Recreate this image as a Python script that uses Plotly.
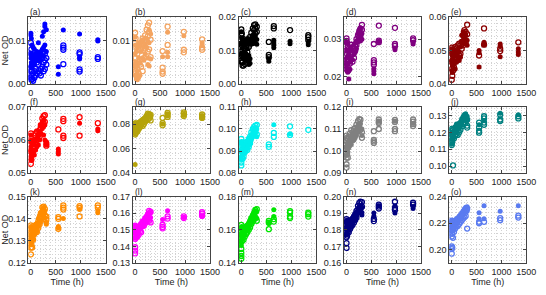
import plotly.graph_objects as go

T = [0, 10, 25, 45, 70, 95, 120, 150, 175, 200, 230, 255, 280, 310, 550, 650, 975, 1340]

a_filled = [[0.0117, 0.0112, 0.006, 0.004], [0.0105, 0.007, 0.005], [0.009, 0.006, 0.0045], [0.0085, 0.0065, 0.005],
            [0.008, 0.006, 0.0045], [0.007, 0.0055], [0.0075, 0.006], [0.0095, 0.0065], [0.007, 0.0055], [0.0075, 0.0065],
            [0.011, 0.008], [0.012, 0.0085, 0.0065], [0.0138, 0.0132, 0.009], [0.0125, 0.0075], [0.004, 0.0023],
            [0.0124], [0.0115, 0.0062, 0.0058], [0.0102, 0.0099]]
a_open = [[0.0095, 0.007, 0.003, 0.0015], [0.008, 0.004, 0.002, 0.001], [0.0065, 0.003, 0.0012], [0.005, 0.0025, 0.0008],
          [0.0055, 0.003, 0.0015], [0.006, 0.0035, 0.002], [0.005, 0.0025], [0.0045, 0.003], [0.0055, 0.0025], [0.0035, 0.002],
          [0.006, 0.004], [0.0075, 0.005, 0.003], [0.007, 0.0055, 0.0035], [0.006, 0.0045], [],
          [0.0089, 0.0084, 0.0079, 0.0046], [0.0073, 0.0069, 0.0034, 0.0029], [0.0062, 0.0058]]

b_filled = [[0.0108, 0.007, 0.004], [0.009, 0.005, 0.002], [0.0075, 0.004, 0.0012], [0.0085, 0.003, 0.001],
            [0.0095, 0.006, 0.0015], [0.0088, 0.005, 0.002], [0.0098, 0.0075], [0.0102, 0.006], [0.0085, 0.0055],
            [0.0092, 0.007], [0.0105, 0.0085], [0.0098, 0.006, 0.0045], [0.0125, 0.0095, 0.0042], [0.0115, 0.0058],
            [0.0063], [0.0119, 0.0073, 0.0063], [0.0111], [0.0095, 0.009]]
b_open = [[0.0118, 0.0095, 0.005, 0.0025], [0.0105, 0.006, 0.003], [0.0085, 0.0045, 0.002], [0.007, 0.0035, 0.0018],
          [0.0078, 0.005, 0.0025], [0.0092, 0.0045], [0.0082, 0.004], [0.0105, 0.0088, 0.003], [0.009, 0.006],
          [0.0112, 0.0082], [0.0125, 0.01], [0.0135, 0.011, 0.0075], [0.0141, 0.012, 0.008], [0.0102, 0.0062],
          [0.0076, 0.0038, 0.0029, 0.0024], [0.0132, 0.009], [0.012, 0.0079, 0.0073], [0.0103, 0.0084, 0.0079]]

c_filled = [[0.0155, 0.012, 0.009], [0.0135, 0.0105], [0.0125, 0.0095, 0.008], [0.0115, 0.0085],
            [0.013, 0.0095, 0.0075], [0.0125, 0.009, 0.0078], [0.0135, 0.0105, 0.0068], [0.012, 0.0085, 0.0058],
            [0.0132, 0.0075, 0.0062], [0.0125, 0.0128], [0.0135, 0.012], [0.0145, 0.0128], [0.014, 0.0122],
            [0.0132, 0.0118], [0.0075, 0.0068], [0.013, 0.0122, 0.0115, 0.0108], [0.0127, 0.012], [0.0125, 0.0117]]
c_open = [[0.0162, 0.0145, 0.012, 0.0095, 0.007], [0.015, 0.0115, 0.0085, 0.0065], [0.0135, 0.01, 0.0065, 0.0055],
          [0.012, 0.0085, 0.0055], [0.0105, 0.0075, 0.006], [0.0115, 0.0082], [0.0125, 0.0095], [0.0132, 0.011],
          [0.014, 0.0118], [0.0152, 0.013], [0.0165, 0.0142], [0.0175, 0.016, 0.0145], [0.0177, 0.0165, 0.015],
          [0.017, 0.0155], [0.0125, 0.0087, 0.008], [0.0172, 0.0165], [0.016], [0.0145, 0.0139, 0.0131]]

d_filled = [[0.029, 0.025, 0.023], [0.027, 0.0235, 0.0215], [0.0255, 0.022, 0.0212], [0.026, 0.0215, 0.0194],
            [0.0275, 0.024, 0.022], [0.028, 0.025], [0.027, 0.0245], [0.0285, 0.026], [0.029, 0.0265], [0.0295, 0.0275],
            [0.0315, 0.0295], [0.0325, 0.030], [0.033, 0.031, 0.0295], [0.0315, 0.030], [0.0221, 0.0215, 0.0208],
            [0.0294], [0.0276, 0.0272], [0.0292, 0.0287]]
d_open = [[0.0302, 0.0295, 0.027, 0.0245, 0.022], [0.029, 0.026, 0.0235], [0.028, 0.0245, 0.0225], [0.0275, 0.024],
          [0.026, 0.0235], [0.0285, 0.0265], [0.026, 0.024], [0.0275, 0.025], [0.0285, 0.027], [0.030, 0.0285],
          [0.031, 0.0295], [0.032, 0.0305], [0.0328, 0.031], [0.0338, 0.0325], [0.0287, 0.0244, 0.0238, 0.0232],
          [0.0336, 0.0296, 0.0292], [0.033, 0.0287, 0.0282], [0.0302, 0.0297]]

e_filled = [[0.0505, 0.047, 0.044], [0.049, 0.046, 0.0435], [0.048, 0.0455], [0.0495, 0.046], [0.0485, 0.0465, 0.0445],
            [0.0495, 0.0465], [0.050, 0.0475], [0.0495, 0.047], [0.051, 0.048], [0.0545, 0.0525], [0.0555, 0.053],
            [0.0553, 0.0535, 0.052], [0.0545, 0.052], [0.053, 0.0515], [0.050, 0.0493, 0.0451], [0.0524, 0.0517],
            [0.0519, 0.0513, 0.0481], [0.0505, 0.0495, 0.0488]]
e_open = [[0.0508, 0.049, 0.0465, 0.0445, 0.0413], [0.0495, 0.047, 0.0425], [0.0485, 0.046, 0.044], [0.050, 0.0475, 0.045],
          [0.051, 0.048], [0.0505, 0.0485], [0.0515, 0.0495], [0.052, 0.0485], [0.0515, 0.049], [0.0525, 0.0505],
          [0.0545, 0.0515], [0.056, 0.054], [0.0555, 0.0525], [0.0576, 0.0548], [0.0485], [0.0565, 0.0517],
          [0.0505, 0.0498], [0.0524]]

f_filled = [[0.0615, 0.058, 0.055], [0.060, 0.0565, 0.054], [0.059, 0.0555], [0.0595, 0.056], [0.0585, 0.0555],
            [0.060, 0.057], [0.0605, 0.058], [0.0615, 0.0585], [0.0625, 0.060], [0.0645, 0.062], [0.0655, 0.0635],
            [0.066, 0.064, 0.0615], [0.0645, 0.060], [0.0595, 0.0585], [0.0573, 0.0565, 0.0558], [], [0.0651],
            [0.0633, 0.0628]]
f_open = [[0.062, 0.0595, 0.0565, 0.0528], [0.0605, 0.057, 0.054], [0.0595, 0.0555], [0.058, 0.0565], [0.060, 0.0575],
          [0.062, 0.0595], [0.0625, 0.060], [0.0615, 0.0625], [0.063, 0.061], [0.0645, 0.0635], [0.0665, 0.0645],
          [0.0672, 0.065], [0.0675, 0.0655], [0.059, 0.0583], [0.0632], [0.0664, 0.0657, 0.0613, 0.0606],
          [0.0669, 0.0613], [0.0651]]

g_filled = [[0.080, 0.076, 0.073, 0.047], [0.081, 0.0775, 0.0745], [0.0795, 0.076], [0.080, 0.077], [0.0815, 0.0785],
            [0.082, 0.079], [0.083, 0.0805], [0.084, 0.081], [0.0845, 0.082], [0.0855, 0.0835], [0.087, 0.085],
            [0.0878, 0.0855], [0.0878, 0.086], [0.087, 0.0855], [0.080], [0.0878, 0.0865], [0.088, 0.087], [0.087, 0.086]]
g_open = [[0.0805, 0.0775, 0.0745, 0.0715], [0.079, 0.0755, 0.0725], [0.0785, 0.0745], [0.0765, 0.074], [0.079, 0.076],
          [0.0805, 0.0775], [0.082, 0.079], [0.0815, 0.0785], [0.083, 0.080], [0.0845, 0.082], [0.0865, 0.0835],
          [0.0885, 0.084], [0.0882, 0.0845], [0.0875, 0.083], [0.085, 0.0808, 0.079], [0.0892, 0.0878, 0.0858],
          [0.0895, 0.0885, 0.0865], [0.0878, 0.0858, 0.085]]

h_filled = [[0.094, 0.090, 0.087], [0.0935, 0.0895, 0.086], [0.093, 0.0885], [0.092, 0.089], [0.093, 0.0895],
            [0.0935, 0.0905], [0.0945, 0.0915], [0.095, 0.0925], [0.096, 0.0935], [0.0975, 0.095], [0.099, 0.0965],
            [0.100, 0.0975], [0.1005, 0.098], [0.100, 0.0965], [], [0.1019], [0.0978], []]
h_open = [[0.0955, 0.092, 0.0885, 0.0848, 0.0835], [0.094, 0.0905, 0.087], [0.0925, 0.0895, 0.0865], [0.091, 0.0875],
          [0.0925, 0.0895], [0.094, 0.091], [0.0935, 0.0905], [0.0955, 0.092], [0.0965, 0.0935], [0.0985, 0.096],
          [0.100, 0.097], [0.1008, 0.0985], [0.1015, 0.099], [0.1018, 0.0975], [0.093, 0.0919], [0.0982, 0.0964],
          [0.1012, 0.0973], [0.0996]]

i_filled = [[0.102, 0.098], [0.1035, 0.100], [0.103, 0.0995], [0.1045, 0.1015], [0.1055, 0.1025], [0.106, 0.103],
            [0.1075, 0.1045], [0.108, 0.105], [0.109, 0.106], [0.110, 0.107], [0.1115, 0.1085], [0.112, 0.109],
            [0.1125, 0.110], [0.110, 0.107], [], [0.1135], [0.1135], [0.1125]]
i_open = [[0.107, 0.1045, 0.1005, 0.097, 0.094, 0.0925], [0.106, 0.102, 0.0985], [0.1055, 0.1015, 0.097],
          [0.1065, 0.1025], [0.108, 0.104], [0.1095, 0.1055], [0.1085, 0.105], [0.110, 0.1065], [0.1105, 0.1075],
          [0.112, 0.109], [0.1135, 0.1105], [0.1145, 0.1115], [0.1142, 0.1095], [0.1085, 0.106],
          [0.109, 0.1051, 0.1044, 0.1037], [0.1143, 0.1133, 0.1127, 0.110], [0.1141, 0.1132, 0.110, 0.109],
          [0.1143, 0.1133, 0.1122, 0.1113]]

j_filled = [[0.1195, 0.116, 0.113], [0.120, 0.1165, 0.1135], [0.1205, 0.117], [0.121, 0.118], [0.1235, 0.120],
            [0.125, 0.1215], [0.1245, 0.122], [0.1255, 0.1225], [0.126, 0.124], [0.128, 0.1255], [0.1295, 0.127],
            [0.1305, 0.1285], [0.131, 0.129], [0.1295, 0.1275], [0.1245], [0.127], [0.1313], [0.1304]]
j_open = [[0.122, 0.1185, 0.1155, 0.1125], [0.121, 0.118, 0.1145], [0.1215, 0.1175, 0.1005], [0.1195, 0.1165],
          [0.1205, 0.118], [0.1225, 0.119], [0.121, 0.1185], [0.1235, 0.120], [0.1245, 0.1215], [0.1265, 0.1235],
          [0.128, 0.125], [0.129, 0.126], [0.1285, 0.1255], [0.1275, 0.124, 0.1228], [0.1258, 0.123, 0.1209, 0.1198],
          [0.1295, 0.1282, 0.1258, 0.1245], [0.1304, 0.1276, 0.1267], [0.1295, 0.1282]]

k_filled = [[0.136, 0.1325, 0.129], [0.1365, 0.133, 0.1295], [0.1355, 0.1315], [0.1345, 0.131], [0.136, 0.1325],
            [0.1375, 0.134], [0.138, 0.1345], [0.140, 0.1365], [0.1415, 0.138], [0.143, 0.1395], [0.1445, 0.1415],
            [0.145, 0.142], [0.1435, 0.1405], [0.1385, 0.1375], [0.1365, 0.136], [0.1401], [0.1442], [0.1438, 0.1428]]
k_open = [[0.137, 0.134, 0.1305, 0.127, 0.1239], [0.1355, 0.132, 0.1285], [0.1345, 0.131, 0.127], [0.1335, 0.1305],
          [0.1355, 0.1335], [0.137, 0.1345], [0.1365, 0.134], [0.139, 0.136], [0.1405, 0.1375], [0.1425, 0.139],
          [0.1452, 0.142], [0.1455, 0.1425], [0.1445, 0.1415], [0.141, 0.1395], [0.1408, 0.140, 0.1355],
          [0.1461, 0.1451, 0.1442], [0.1458, 0.1449, 0.1411], [0.1461, 0.1451]]

l_filled = [[0.152, 0.148, 0.145], [0.1525, 0.1485], [0.151, 0.1475], [0.150, 0.147], [0.1515, 0.149],
            [0.153, 0.1505], [0.1535, 0.151], [0.1545, 0.152], [0.156, 0.1535], [0.1575, 0.155], [0.1585, 0.156],
            [0.160, 0.157], [0.1605, 0.158], [0.1605, 0.1575], [0.1563], [0.1616], [0.1575], [0.158]]
l_open = [[0.1525, 0.149, 0.1445, 0.1395, 0.1375, 0.1358], [0.151, 0.1465], [0.1495, 0.1455], [0.1485, 0.146],
          [0.150, 0.147], [0.152, 0.149], [0.1535, 0.1485], [0.155, 0.1525], [0.155, 0.1525], [0.1565, 0.154],
          [0.1575, 0.1555], [0.159, 0.156], [0.1615, 0.1555], [0.1608, 0.1545], [0.1531, 0.1518, 0.1509],
          [0.1582, 0.1568], [0.1582, 0.1571], [0.1607, 0.1598, 0.1586]]

m_filled = [[0.1605, 0.1565, 0.1525, 0.1505], [0.162, 0.158, 0.1545], [0.161, 0.157], [0.160, 0.1565], [0.161, 0.1575],
            [0.1625, 0.159], [0.163, 0.160], [0.164, 0.161], [0.166, 0.163], [0.1675, 0.1645], [0.1695, 0.1665],
            [0.171, 0.168], [0.1715, 0.1685], [0.171, 0.167], [0.164], [0.1722, 0.168], [], []]
m_open = [[0.163, 0.159, 0.155, 0.1485, 0.146, 0.1442, 0.1425], [0.161, 0.157, 0.153], [0.1595, 0.155], [0.158, 0.154],
          [0.1595, 0.156], [0.161, 0.1575], [0.162, 0.1585], [0.1635, 0.160], [0.165, 0.1615], [0.167, 0.1635],
          [0.1685, 0.165], [0.170, 0.1665], [0.172, 0.167], [0.1725, 0.1655], [0.1654, 0.1643, 0.1604],
          [0.1665, 0.165], [0.1713, 0.1704, 0.168, 0.1671], [0.1704, 0.1695, 0.168]]

n_filled = [[0.185, 0.181, 0.177], [0.186, 0.182, 0.178], [0.1845, 0.1805], [0.1835, 0.180], [0.185, 0.1815],
            [0.1865, 0.183], [0.187, 0.184], [0.1885, 0.1855], [0.1895, 0.1865], [0.191, 0.188], [0.193, 0.190],
            [0.194, 0.191], [0.1945, 0.1915], [0.1935, 0.1905, 0.189], [0.1902, 0.188], [0.1946], [0.1946, 0.1902],
            [0.1941, 0.1929]]
n_open = [[0.1865, 0.183, 0.179, 0.1755, 0.172, 0.1691], [0.1845, 0.1805, 0.1765], [0.183, 0.179], [0.182, 0.1785],
          [0.184, 0.1805], [0.1855, 0.182], [0.1865, 0.183], [0.188, 0.1845], [0.1895, 0.186], [0.1915, 0.1875],
          [0.1945, 0.1905], [0.1962, 0.192], [0.197, 0.1935], [0.1968, 0.194], [0.1866, 0.1853],
          [0.1952, 0.1941, 0.1929], [0.197, 0.1932, 0.192], [0.1964, 0.1952]]

o_filled = [[0.221, 0.2175, 0.214], [0.222, 0.218, 0.2145], [0.2215, 0.217], [0.2205, 0.2165], [0.222, 0.219],
            [0.2235, 0.2205], [0.224, 0.221], [0.2255, 0.2225], [0.2265, 0.2235], [0.228, 0.225], [0.2295, 0.2265],
            [0.231, 0.2275], [0.232, 0.2285], [0.2325, 0.229], [0.228, 0.2234], [0.2332, 0.2234], [0.2291], [0.2332]]
o_open = [[0.222, 0.2185, 0.2145, 0.210, 0.2025, 0.2005, 0.197], [0.2205, 0.2165, 0.212, 0.2015], [0.219, 0.215, 0.209],
          [0.218, 0.2135], [0.2195, 0.216], [0.221, 0.2175], [0.222, 0.218], [0.223, 0.2195], [0.2245, 0.221],
          [0.226, 0.222], [0.2275, 0.2235], [0.229, 0.2245], [0.2305, 0.2255], [0.231, 0.216], [0.2211, 0.220],
          [0.2211], [0.2239, 0.2223], [0.2257, 0.2243]]

labels = ["(a)", "(b)", "(c)", "(d)", "(e)", "(f)", "(g)", "(h)", "(i)", "(j)", "(k)", "(l)", "(m)", "(n)", "(o)"]
filled_sets = [a_filled, b_filled, c_filled, d_filled, e_filled, f_filled, g_filled, h_filled, i_filled, j_filled,
               k_filled, l_filled, m_filled, n_filled, o_filled]
open_sets = [a_open, b_open, c_open, d_open, e_open, f_open, g_open, h_open, i_open, j_open,
             k_open, l_open, m_open, n_open, o_open]
colors = ["#0000FF", "#F4A460", "#000000", "#800080", "#8B0000", "#FF0000", "#B5A30B", "#00EEEE", "#808080",
          "#008080", "#FF8C00", "#FF00FF", "#00E600", "#000080", "#5A7BF0"]
y_ranges = [[0, 0.0155], [0, 0.0155], [0, 0.02], [0.018, 0.036], [0.04, 0.06], [0.05, 0.07], [0.04, 0.094],
            [0.08, 0.11], [0.09, 0.12], [0.096, 0.135], [0.12, 0.15], [0.13, 0.17], [0.14, 0.18], [0.16, 0.20],
            [0.19, 0.24]]
y_dticks = [0.01, 0.01, 0.01, 0.01, 0.01, 0.01, 0.02, 0.01, 0.01, 0.01, 0.01, 0.01, 0.02, 0.01, 0.02]

W, H = 546, 295
col_px = [(25, 104.5), (132, 211.5), (241, 320.5), (349, 428), (457, 536)]
row_px = [(12, 82), (105.5, 174), (198.5, 267)]

fig = go.Figure()
annotations = []
FONT = "Liberation Sans, Arial, sans-serif"
GRID = "#d2d2d2"
GD = "1px,2px"

def flatten(rows):
    xs, ys = [], []
    for t, row in zip(T, rows):
        for v in row:
            xs.append(t)
            ys.append(v)
    return xs, ys

for k in range(15):
    r, c = divmod(k, 5)
    n = k + 1
    xa = "x" if n == 1 else f"x{n}"
    ya = "y" if n == 1 else f"y{n}"
    fx, fy = flatten(filled_sets[k])
    ox, oy = flatten(open_sets[k])
    fig.add_trace(go.Scatter(x=ox, y=oy, mode="markers", xaxis=xa, yaxis=ya,
                             marker=dict(symbol="circle-open", size=5, color=colors[k], line=dict(width=1.3, color=colors[k]))))
    fig.add_trace(go.Scatter(x=fx, y=fy, mode="markers", xaxis=xa, yaxis=ya,
                             marker=dict(symbol="circle", size=5, color=colors[k], line=dict(width=0))))
    x0, x1 = col_px[c]
    y0, y1 = row_px[r]
    xdom = [x0 / W, x1 / W]
    ydom = [1 - y1 / H, 1 - y0 / H]
    xkey = "xaxis" if n == 1 else f"xaxis{n}"
    ykey = "yaxis" if n == 1 else f"yaxis{n}"
    common = dict(showline=True, linecolor="#444444", linewidth=0.8, mirror="ticks", ticks="inside", ticklen=3,
                  tickcolor="#444444", showgrid=True, gridcolor=GRID, griddash=GD, gridwidth=0.6, zeroline=False,
                  tickfont=dict(family=FONT, size=9, color="#222222"))
    fig.layout[xkey] = dict(domain=xdom, anchor=ya, range=[-50, 1500], tickvals=[0, 500, 1000, 1500],
                            minor=dict(dtick=100, showgrid=True, gridcolor=GRID, griddash=GD, gridwidth=0.6),
                            title=dict(text="Time (h)" if r == 2 else "", font=dict(family=FONT, size=9, color="#222222"), standoff=3),
                            **common)
    dt = y_dticks[k]
    fig.layout[ykey] = dict(domain=ydom, anchor=xa, range=y_ranges[k], dtick=dt, tick0=0, tickformat=".2f",
                            minor=dict(dtick=dt / 5, tick0=0, showgrid=True, gridcolor=GRID, griddash=GD, gridwidth=0.6),
                            title=dict(text="Net OD" if c == 0 else "", font=dict(family=FONT, size=9, color="#222222"), standoff=2),
                            **common)
    annotations.append(dict(text=labels[k], x=xdom[0], y=ydom[1], xref="paper", yref="paper", xanchor="left",
                            yanchor="bottom", showarrow=False, font=dict(family=FONT, size=8.5, color="#222222"),
                            xshift=1, yshift=-1, borderpad=0))

fig.update_layout(width=W, height=H, margin=dict(l=0, r=0, t=0, b=0), paper_bgcolor="white", plot_bgcolor="white",
                  showlegend=False, annotations=annotations)
fig.write_html("out.html")
